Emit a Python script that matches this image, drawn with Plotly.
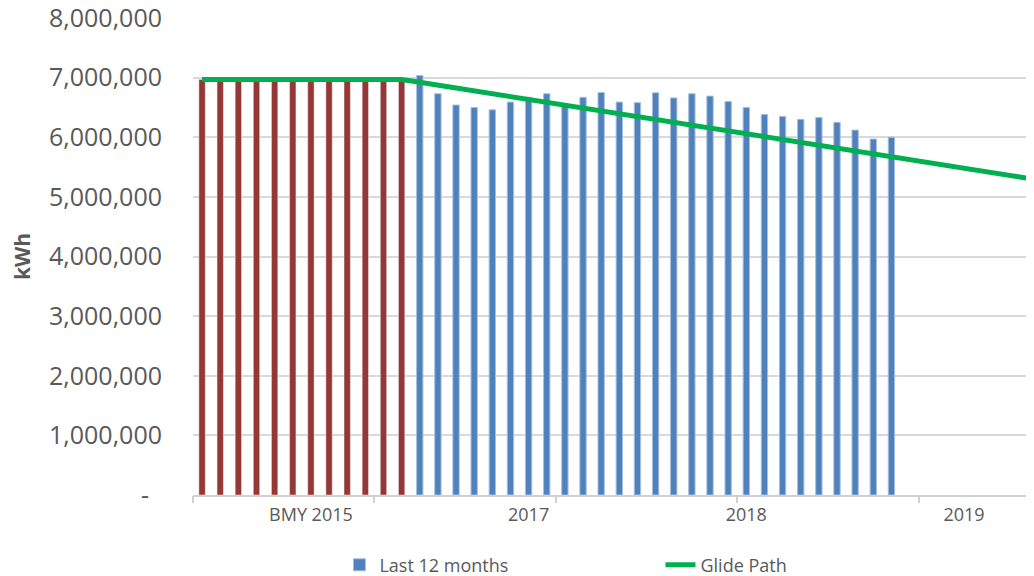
import plotly.graph_objects as go

# monthly categories: baseline year, then 2017-2019
months = ["Jan", "Feb", "Mar", "Apr", "May", "Jun",
          "Jul", "Aug", "Sep", "Oct", "Nov", "Dec"]
baseline_label = "BMY 2015"
years = ["2017", "2018", "2019"]
categories = [f"{baseline_label} {m}" for m in months] + \
             [f"{y} {m}" for y in years for m in months]

# rolling 12-month consumption, kWh
baseline_kwh = [6970000] * 12
last12_months = categories[12:39]
last12_kwh = [7035000, 6730000, 6540000, 6500000, 6460000, 6590000, 6670000,
              6730000, 6550000, 6670000, 6750000, 6590000, 6580000, 6745000,
              6660000, 6730000, 6690000, 6600000, 6500000, 6380000, 6350000,
              6300000, 6330000, 6250000, 6120000, 5970000, 6000000]

glide_kwh = [6970000] * 12 + [
    6922000, 6874000, 6826000, 6778000, 6730000, 6682000, 6634000, 6586000,
    6538000, 6490000, 6442000, 6394000, 6346000, 6298000, 6250000, 6202000,
    6154000, 6106000, 6058000, 6010000, 5962000, 5914000, 5866000, 5818000,
    5770000, 5722000, 5674000, 5626000, 5578000, 5530000, 5482000, 5434000,
    5386000, 5338000, 5290000, 5242000]

y_ticks = [0, 1000000, 2000000, 3000000, 4000000, 5000000, 6000000, 7000000, 8000000]
y_ticktext = ["-\u00a0\u00a0"] + [f"{v:,}" for v in y_ticks[1:]]
x_labelvals = [f"{baseline_label} Jul"] + [f"{y} Jul" for y in years]
x_labeltext = [baseline_label] + years

grey = "#595959"
font = "Open Sans"

fig = go.Figure()
fig.add_trace(go.Bar(x=categories[:12], y=baseline_kwh, name=baseline_label,
                     marker_color="#953735", width=0.35, showlegend=False))
fig.add_trace(go.Bar(x=last12_months, y=last12_kwh, name="Last 12 months",
                     marker=dict(color="#4F81BD", line=dict(color="#A7BFDE", width=1)),
                     width=0.35))
fig.add_trace(go.Scatter(x=categories, y=glide_kwh, name="Glide Path", mode="lines",
                         line=dict(color="#00B050", width=5)))
# empty trace so the tick-mark axis gets drawn
fig.add_trace(go.Scatter(x=[None], y=[None], xaxis="x2", showlegend=False,
                         hoverinfo="skip"))

fig.update_layout(
    width=1034, height=576,
    margin=dict(l=185, r=0, t=10, b=73),
    paper_bgcolor="white", plot_bgcolor="white",
    barmode="overlay",
    font=dict(family=font, color=grey),
    xaxis=dict(type="category", categoryorder="array", categoryarray=categories,
               range=[-0.5, 46.3], tickvals=x_labelvals, ticktext=x_labeltext,
               ticks="", showgrid=False, showline=True, linecolor="#D0D0D0",
               linewidth=1.5, tickfont=dict(size=18, color=grey),
               ticklabelstandoff=3, automargin=False),
    xaxis2=dict(overlaying="x", anchor="y", side="bottom", range=[-0.5, 46.3],
                tickvals=[-0.5, 9.5, 19.5, 29.5, 39.5], ticks="outside",
                ticklen=7, tickcolor="#D0D0D0", tickwidth=1.5,
                showticklabels=False, showgrid=False, zeroline=False,
                automargin=False),
    yaxis=dict(range=[0, 8000000], tickvals=y_ticks, ticktext=y_ticktext,
               showgrid=True, gridcolor="#D9D9D9", gridwidth=1.5, zeroline=False,
               ticks="", tickfont=dict(size=25, color=grey), ticklabelstandoff=30,
               ticklabeloverflow="allow", automargin=False,
               title=dict(text="<b>kWh</b>", font=dict(size=21, color=grey),
                          standoff=25)),
    legend=dict(orientation="h", x=0.1725, xanchor="left", y=-0.147, yanchor="middle",
                entrywidth=276, entrywidthmode="pixels",
                font=dict(size=18, color=grey), traceorder="normal"),
)

fig.write_html("out.html")
